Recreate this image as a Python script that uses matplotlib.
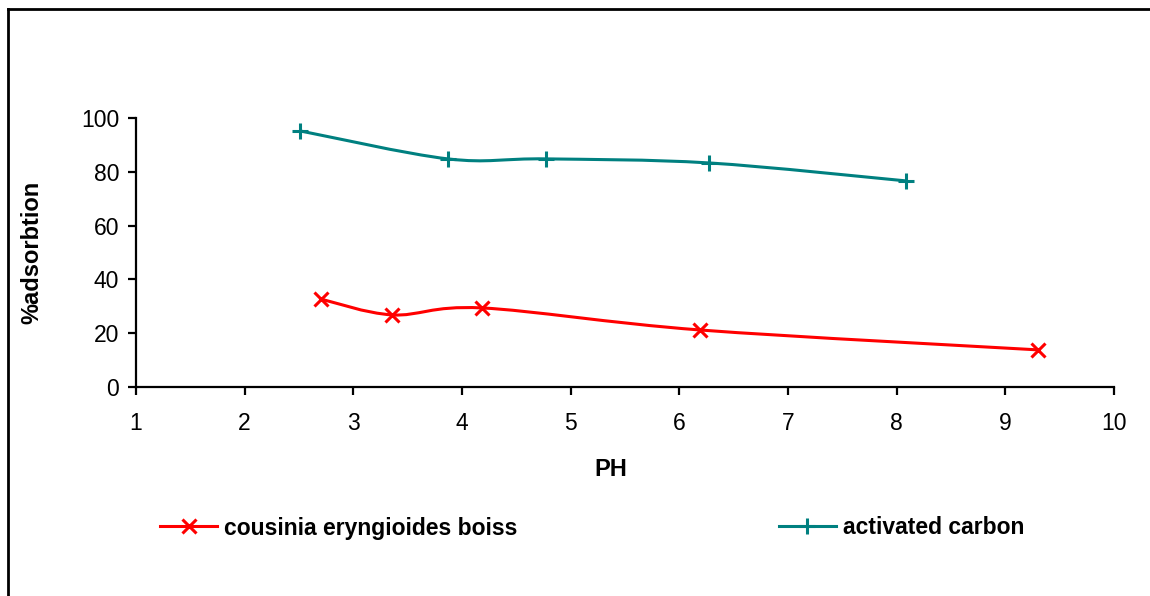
import numpy as np
import matplotlib
matplotlib.use("Agg")
import matplotlib.pyplot as plt
from matplotlib.path import Path
from matplotlib.patches import PathPatch
from matplotlib.lines import Line2D

plt.rcParams['font.family'] = ['Liberation Sans', 'DejaVu Sans']

# data
ph_cousinia = [2.70, 3.36, 4.18, 6.19, 9.30]
ads_cousinia = [32.7, 26.8, 29.4, 21.2, 13.8]
ph_carbon = [2.51, 3.87, 4.77, 6.27, 8.09]
ads_carbon = [95.2, 84.8, 84.8, 83.3, 76.6]

label_cousinia = "cousinia eryngioides boiss"
label_carbon = "activated carbon"
x_ticks = [1, 2, 3, 4, 5, 6, 7, 8, 9, 10]
y_ticks = [0, 20, 40, 60, 80, 100]

RED = "#FF0000"
TEAL = "#008080"


def smooth_path(xs, ys):
    # Excel-like smoothed line: cubic Bezier segments through every point
    pts = np.column_stack([xs, ys]).astype(float)
    n = len(pts)
    verts = [pts[0]]
    codes = [Path.MOVETO]
    for i in range(n - 1):
        p0 = pts[i - 1] if i > 0 else pts[i]
        p1 = pts[i]
        p2 = pts[i + 1]
        p3 = pts[i + 2] if i + 2 < n else pts[i + 1]
        c1 = p1 + (p2 - p0) / 6.0
        c2 = p2 - (p3 - p1) / 6.0
        verts += [c1, c2, p2]
        codes += [Path.CURVE4] * 3
    return Path(verts, codes)


fig = plt.figure(figsize=(11.5, 5.96), dpi=100)
ax = fig.add_axes([136 / 1150, 1 - 387 / 596, (1114 - 136) / 1150, (387 - 118) / 596])

for xs, ys, col, mk, ms in [(ph_cousinia, ads_cousinia, RED, 'x', 10),
                            (ph_carbon, ads_carbon, TEAL, '+', 12)]:
    ax.add_patch(PathPatch(smooth_path(xs, ys), facecolor='none', edgecolor=col,
                           lw=2.2, zorder=3))
    ax.plot(xs, ys, ls='none', marker=mk, ms=ms, mew=2.2, color=col, zorder=4)

ax.set_xlim(1, 10)
ax.set_ylim(0, 100)
ax.set_xticks(x_ticks)
ax.set_yticks(y_ticks)
ax.spines['top'].set_visible(False)
ax.spines['right'].set_visible(False)
for s in ('left', 'bottom'):
    ax.spines[s].set_linewidth(1.6)
ax.tick_params(direction='out', length=6, width=1.6, labelsize=16.5)
ax.tick_params(axis='x', pad=12)
ax.tick_params(axis='y', pad=6)
ax.set_xlabel("PH", fontsize=17, fontweight='bold')
ax.set_ylabel("%adsorbtion", fontsize=17, fontweight='bold')
ax.xaxis.set_label_coords((611 - 136) / (1114 - 136), -(469 - 387) / (387 - 118))
ax.yaxis.set_label_coords(-(136 - 32) / (1114 - 136), 0.5)
ax.xaxis.label.set_va('center')
ax.yaxis.label.set_va('center')

handles = [Line2D([], [], color=RED, lw=2.2, marker='x', ms=10, mew=2.2),
           Line2D([], [], color=TEAL, lw=2.2, marker='+', ms=12, mew=2.2)]
fig.legend(handles, [label_cousinia, label_carbon], ncol=2, frameon=False,
           loc='center left', bbox_to_anchor=(160 / 1150, 1 - 528 / 596),
           borderpad=0, borderaxespad=0, handlelength=2.5, handletextpad=0.3,
           columnspacing=11.4, prop={'size': 16.5, 'weight': 'bold'})

# chart area border (cut off at the right and bottom in the reference)
fig.add_artist(Line2D([7.5 / 1150, 7.5 / 1150], [0, 1 - 9 / 596],
                      transform=fig.transFigure, color='black', lw=2))
fig.add_artist(Line2D([7.5 / 1150, 1], [1 - 9 / 596, 1 - 9 / 596],
                      transform=fig.transFigure, color='black', lw=2))

fig.savefig("out.png", dpi=100)
